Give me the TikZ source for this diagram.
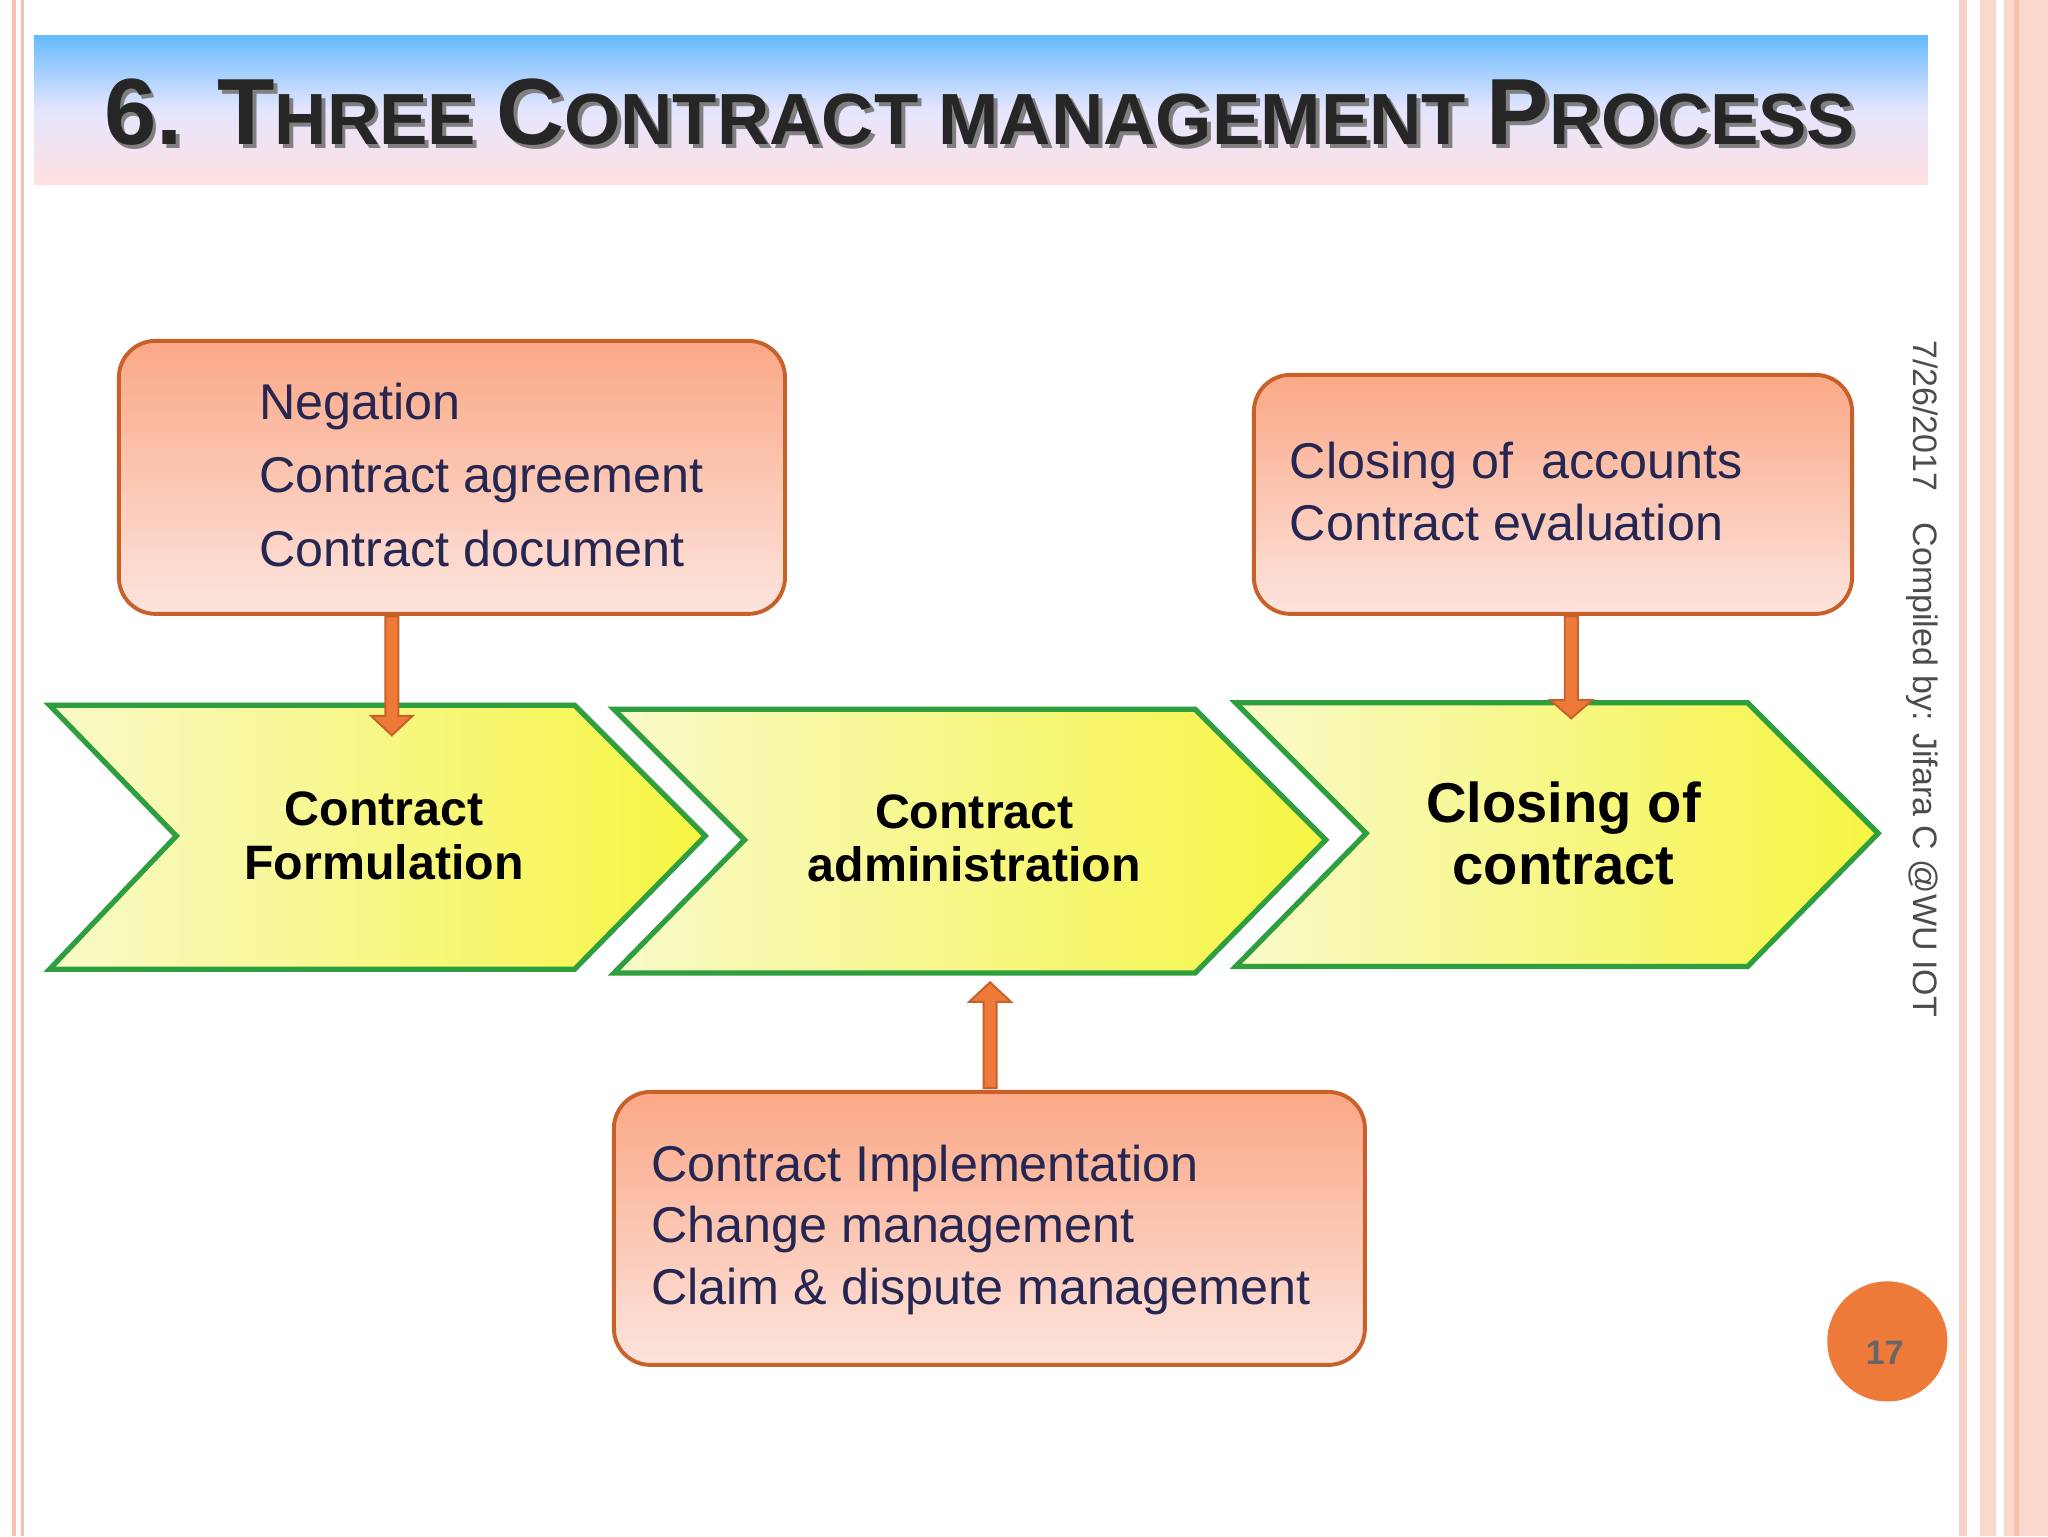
\documentclass[tikz,border=0pt]{standalone}
\usepackage{fontspec}
\setmainfont{Liberation Sans}
\usetikzlibrary{arrows.meta}
\definecolor{obord}{HTML}{C8602A}
\definecolor{otop}{HTML}{FBA886}
\definecolor{obot}{HTML}{FCE4DE}
\definecolor{cgreen}{HTML}{2E9E3E}
\definecolor{cyel}{HTML}{F6F542}
\definecolor{cyel2}{HTML}{F8F9C8}
\definecolor{arr}{HTML}{EE7A3A}
\definecolor{pinkline}{HTML}{F7BFAE}
\tikzset{
 infobox/.style={draw=obord,line width=3pt,rounded corners=28pt,top color=otop,bottom color=obot},
 chev/.style={draw=cgreen,line width=4pt,left color=cyel2,right color=cyel,line join=miter},
 bodytxt/.style={font=\fontsize{38.5}{47}\selectfont,text=blue!20!black!85!,anchor=north west,align=left},
 chevtxt/.style={font=\bfseries\fontsize{37}{41}\selectfont,align=center},
 flow/.style={draw=obord,fill=arr,line width=1.5pt}
}
\newcommand{\bigS}[1]{{\fontsize{72}{72}\selectfont #1}}
\newcommand{\smS}[1]{{\fontsize{55.5}{55.5}\selectfont #1}}
\begin{document}
\begin{tikzpicture}[x=1pt,y=-1pt]
\useasboundingbox (0,0) rectangle (1568,1176);
\fill[white] (0,0) rectangle (1568,1176);
% borders
\fill[pinkline] (9,0) rectangle (12,1176);
\fill[pinkline] (16,0) rectangle (18,1176);
\fill[pinkline!70] (1500,0) rectangle (1506,1176);
\fill[pinkline!60] (1516,0) rectangle (1568,1176);
\fill[white] (1528,0) rectangle (1534,1176);
\fill[pinkline] (1542,0) rectangle (1546,1176);
% title banner
\shade[top color=blue!45!cyan!60,bottom color=red!12,middle color=blue!10] (26,27) rectangle (1476,141);
\node[font=\bfseries,text=black!50,anchor=center] at (753,89) {\bigS{6. T}\smS{HREE }\bigS{C}\smS{ONTRACT MANAGEMENT }\bigS{P}\smS{ROCESS}};
\node[font=\bfseries,text=black!85,anchor=center] (title) at (750,86) {\bigS{6. T}\smS{HREE }\bigS{C}\smS{ONTRACT MANAGEMENT }\bigS{P}\smS{ROCESS}};
% chevrons
\draw[chev] (38,540) -- (440,540) -- (540,640) -- (440,742) -- (38,742) -- (135,640) -- cycle;
\draw[chev] (470,543) -- (915,543) -- (1015,643) -- (915,745) -- (470,745) -- (570,643) -- cycle;
\draw[chev] (946,538) -- (1338,538) -- (1438,638) -- (1338,740) -- (946,740) -- (1046,638) -- cycle;
\node[chevtxt] (c1) at (294,640) {Contract\\Formulation};
\node[chevtxt] (c2) at (746,642) {Contract\\administration};
\node[chevtxt,font=\bfseries\fontsize{43}{47}\selectfont] (c3) at (1197,638) {Closing of\\contract};
% boxes
\draw[infobox] (91,261) rectangle (601,470);
\node[bodytxt,font=\fontsize{38.5}{56}\selectfont] (b1) at (195,290) {Negation\\Contract agreement\\Contract document};
\draw[infobox] (960,287) rectangle (1418,470);
\node[bodytxt] (b2) at (984,335) {Closing of~ accounts\\Contract evaluation};
\draw[infobox] (470,836) rectangle (1045,1045);
\node[bodytxt] (b3) at (495,873) {Contract Implementation\\Change management\\Claim \& dispute management};
% arrows
\draw[flow] (295,472) -- (305,472) -- (305,548) -- (316,548) -- (300,563) -- (284,548) -- (295,548) -- cycle;
\draw[flow] (1198,472) -- (1208,472) -- (1208,536) -- (1219,536) -- (1203,550) -- (1187,536) -- (1198,536) -- cycle;
\draw[flow] (753,833) -- (763,833) -- (763,767) -- (774,767) -- (758,752) -- (742,767) -- (753,767) -- cycle;
% side text
\node[rotate=-90,anchor=west,font=\fontsize{26}{26}\selectfont,text=black!70] (side) at (1472,257) {7/26/2017\hspace{24pt}Compiled by: Jifara C @WU IOT};
% page number
\fill[arr] (1445,1027) circle (46);
\node[font=\bfseries\fontsize{26}{26}\selectfont,text=black!60] (pg) at (1443,1036) {17};
\end{tikzpicture}
\end{document}
